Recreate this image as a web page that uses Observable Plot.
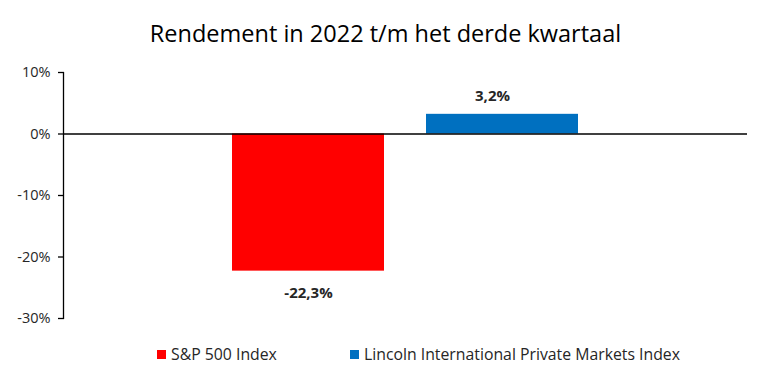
<!DOCTYPE html>
<html><head><meta charset="utf-8">
<script src="https://cdn.jsdelivr.net/npm/d3@7"></script>
<script src="https://cdn.jsdelivr.net/npm/@observablehq/plot@0.6"></script>
<style>
body{margin:0;background:#fff;font-family:"Open Sans",sans-serif;}
#wrap{width:768px;height:384px;position:relative;}
#title{height:60px;line-height:66px;text-align:center;font-size:23.5px;color:#000;padding-left:3px;box-sizing:border-box;}
#legend{position:absolute;top:344px;left:0;width:768px;height:20px;font-size:15.8px;color:#262626;}
.li{position:absolute;top:0;display:flex;align-items:center;height:20px;}
.sw{width:9px;height:9px;margin-right:5px;}
</style></head>
<body><div id="wrap"><div id="title">Rendement in 2022 t/m het derde kwartaal</div><div id="chart"></div><div id="legend"></div></div>
<script>
const series = ["S&P 500 Index", "Lincoln International Private Markets Index"];
const values = [-22.3, 3.2];
const colors = ["#FF0000", "#0070C0"];
const yTicks = [10, 0, -10, -20, -30];

const data = series.map((s, i) => ({series: s, value: values[i]}));
const fmt = v => v.toFixed(1).replace(".", ",") + "%";

const plot = Plot.plot({
  width: 768, height: 270,
  marginLeft: 63, marginRight: 21, marginTop: 12, marginBottom: 12,
  style: {fontFamily: "'Open Sans', sans-serif", fontSize: "14.5px", color: "#262626"},
  x: {domain: series, paddingInner: 0.215, paddingOuter: 0.862, axis: null},
  y: {domain: [-30, 10]},
  color: {domain: series, range: colors},
  marks: [
    Plot.barY(data, {x: "series", y: "value", fill: "series"}),
    Plot.ruleY([0], {stroke: "#000", strokeWidth: 1.3}),
    Plot.frame({anchor: "left", stroke: "#000", strokeWidth: 1.3}),
    Plot.axisY({ticks: yTicks, tickSize: 5, tickPadding: 8, tickFormat: d => d + "%", stroke: "#000", strokeWidth: 1.3, label: null, fontSize: 14.5}),
    Plot.text(data.filter(d => d.value < 0), {x: "series", y: "value", text: d => fmt(d.value), dy: 22, fontWeight: "bold", fontSize: 15, fill: "#262626"}),
    Plot.text(data.filter(d => d.value >= 0), {x: "series", y: "value", text: d => fmt(d.value), dy: -18, dx: -10, fontWeight: "bold", fontSize: 15, fill: "#262626"})
  ]
});
document.getElementById("chart").appendChild(plot);

const legend = document.getElementById("legend");
const lx = [157, 350];
series.forEach((s, i) => {
  const d = document.createElement("div");
  d.className = "li"; d.style.left = lx[i] + "px";
  d.innerHTML = `<span class="sw" style="background:${colors[i]}"></span><span></span>`;
  d.lastChild.textContent = s;
  legend.appendChild(d);
});
</script></body></html>
